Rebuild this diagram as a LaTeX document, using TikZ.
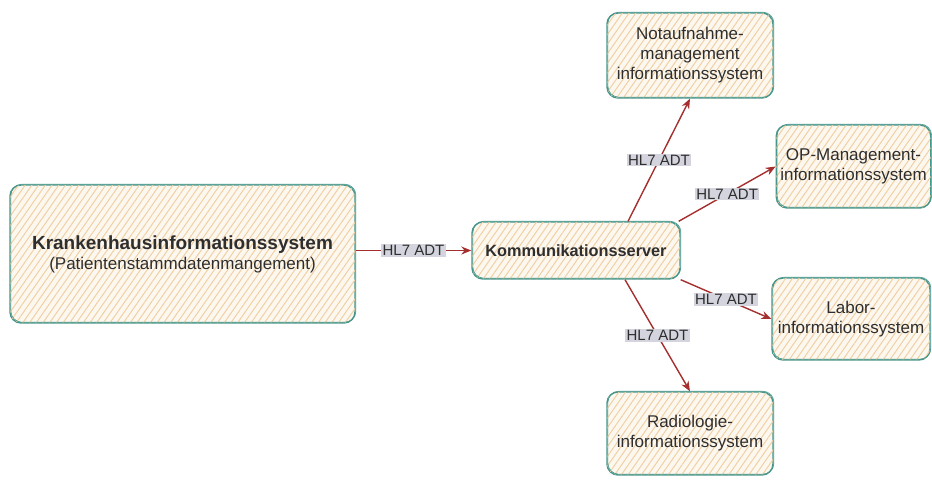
\documentclass[tikz,border=0pt]{standalone}
\usepackage{fontspec}
\setmainfont{Liberation Sans}
\usetikzlibrary{arrows.meta,patterns.meta}

\definecolor{edge}{HTML}{47968B}
\definecolor{paper}{HTML}{FDF8EF}
\definecolor{hatch}{HTML}{F0D0A4}
\definecolor{wire}{HTML}{A52E2E}
\definecolor{tagbg}{HTML}{D4D4DE}
\definecolor{ink}{HTML}{2E2E2E}

\tikzset{
  sysbox/.style={
    rectangle, rounded corners=11pt, draw=edge, line width=1.4pt,
    fill=paper, text=ink, align=center, inner sep=4pt,
    font=\fontsize{17}{20}\selectfont,
    postaction={pattern={Lines[angle=55,distance=5.5pt,line width=1pt]},
                pattern color=hatch},
    postaction={draw=edge, line width=0.6pt, rounded corners=11pt,
                transform canvas={shift={(0.9pt,0.8pt)}}}
  },
  flow/.style={draw=wire, line width=1.4pt,
    -{Stealth[length=10pt,width=8pt]}},
  tag/.style={fill=tagbg, text=ink, inner sep=1.2pt,
    font=\fontsize{15}{17}\selectfont}
}

\begin{document}
\begin{tikzpicture}[x=1pt,y=-1pt]
  \useasboundingbox (0,0) rectangle (932,480);

  % systems
  \node[sysbox, minimum width=345pt, minimum height=138pt] (kis) at (182.5,254)
    {{\fontsize{19}{22}\selectfont\bfseries Krankenhausinformationssystem}\\
     (Patientenstammdatenmangement)};
  \node[sysbox, minimum width=208pt, minimum height=57pt] (komm) at (576,250.5)
    {\fontsize{16.3}{20}\selectfont\bfseries Kommunikationsserver};
  \node[sysbox, minimum width=166pt, minimum height=85pt] (nota) at (690,55.5)
    {Notaufnahme-\\management\\informationssystem};
  \node[sysbox, minimum width=153pt, minimum height=83pt] (op) at (853.5,166.5)
    {OP-Management-\\informationssystem};
  \node[sysbox, minimum width=158pt, minimum height=82pt] (labor) at (851,319)
    {Labor-\\informationssystem};
  \node[sysbox, minimum width=166pt, minimum height=83pt] (radio) at (690,433.5)
    {Radiologie-\\informationssystem};

  % HL7 message flows
  \draw[flow] (kis.east |- komm.west) -- node[tag] {HL7 ADT} (komm.west);
  \draw[flow] ([xshift=52pt]komm.north) -- node[tag] {HL7 ADT} (nota.south);
  \draw[flow] ([xshift=-2pt]komm.north east) -- node[tag] {HL7 ADT} (op.west);
  \draw[flow] (komm.south east) -- node[tag] {HL7 ADT} (labor.west);
  \draw[flow] ([xshift=49pt]komm.south) -- node[tag] {HL7 ADT} (radio.north);
\end{tikzpicture}
\end{document}
